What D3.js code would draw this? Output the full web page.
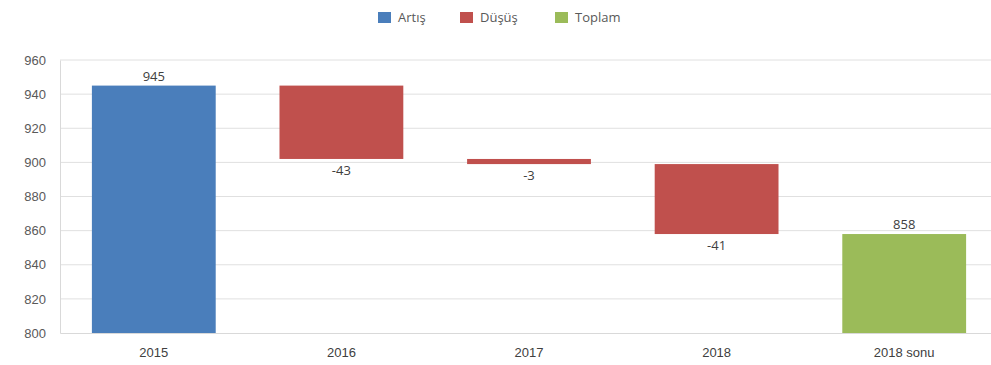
<!DOCTYPE html>
<html>
<head>
<meta charset="utf-8">
<script src="https://cdn.jsdelivr.net/npm/d3@7"></script>
<style>
  body { margin: 0; background: #fff; }
  svg { font-family: "Open Sans", "Noto Sans", sans-serif; }
</style>
</head>
<body>
<svg id="chart"></svg>
<script>
// data
const categories = ["2015", "2016", "2017", "2018", "2018 sonu"];
const changes = [945, -43, -3, -41, 858];
const kinds = ["Artış", "Düşüş", "Düşüş", "Düşüş", "Toplam"];
const yTicks = [800, 820, 840, 860, 880, 900, 920, 940, 960];
const legendItems = ["Artış", "Düşüş", "Toplam"];

const colors = { "Artış": "#4a7ebb", "Düşüş": "#c0504d", "Toplam": "#9bbb59" };

const width = 991, height = 365;
const margin = { top: 60, right: -7, bottom: 32, left: 60 };
const innerW = width - margin.left - margin.right;
const innerH = height - margin.top - margin.bottom;

// build waterfall steps
let running = 0;
const bars = categories.map((c, i) => {
  let start, end;
  if (kinds[i] === "Toplam" || i === 0) { start = 800; end = changes[i]; running = changes[i]; }
  else { start = running; end = running + changes[i]; running = end; }
  return { cat: c, value: changes[i], kind: kinds[i], lo: Math.min(start, end), hi: Math.max(start, end) };
});

const svg = d3.select("#chart").attr("width", width).attr("height", height);
const g = svg.append("g").attr("transform", `translate(${margin.left},${margin.top})`);

const x = d3.scaleBand().domain(categories).range([0, innerW]).paddingInner(0.34).paddingOuter(0.17);
const y = d3.scaleLinear().domain([800, 960]).range([innerH, 0]);

// gridlines
g.append("g")
  .selectAll("line")
  .data(yTicks.slice(1))
  .join("line")
  .attr("x1", 0).attr("x2", innerW)
  .attr("y1", d => y(d)).attr("y2", d => y(d))
  .attr("stroke", "#e0e0e0");

// y axis
const yAxis = g.append("g").call(d3.axisLeft(y).tickValues(yTicks).tickSize(0).tickPadding(14));
yAxis.select(".domain").attr("stroke", "#d9d9d9");
yAxis.selectAll("text").attr("fill", "#595959").style("font-size", "13px");

// x axis
const xAxis = g.append("g").attr("transform", `translate(0,${innerH})`)
  .call(d3.axisBottom(x).tickSize(0).tickPadding(15));
xAxis.select(".domain").attr("stroke", "#d9d9d9");
xAxis.selectAll("text").attr("fill", "#404040").style("font-size", "13px");

// bars
g.selectAll("rect.bar")
  .data(bars)
  .join("rect")
  .attr("class", "bar")
  .attr("x", d => x(d.cat))
  .attr("width", x.bandwidth())
  .attr("y", d => y(d.hi))
  .attr("height", d => Math.max(1, y(d.lo) - y(d.hi)))
  .attr("fill", d => colors[d.kind]);

// labels
g.selectAll("text.lbl")
  .data(bars)
  .join("text")
  .attr("class", "lbl")
  .attr("x", d => x(d.cat) + x.bandwidth() / 2)
  .attr("y", d => d.value < 0 ? y(d.lo) + 16 : y(d.hi) - 5)
  .attr("text-anchor", "middle")
  .attr("fill", "#404040")
  .style("font-size", "13px")
  .text(d => d.value);

// legend
const legend = svg.append("g").attr("transform", "translate(378,11)");
const offsets = [0, 82, 177];
legendItems.forEach((name, i) => {
  const item = legend.append("g").attr("transform", `translate(${offsets[i]},0)`);
  item.append("rect").attr("width", 13).attr("height", 11).attr("y", 1).attr("fill", colors[name]);
  item.append("text").attr("x", 20).attr("y", 11).attr("fill", "#595959")
    .style("font-size", "13px").text(name);
});
</script>
</body>
</html>
